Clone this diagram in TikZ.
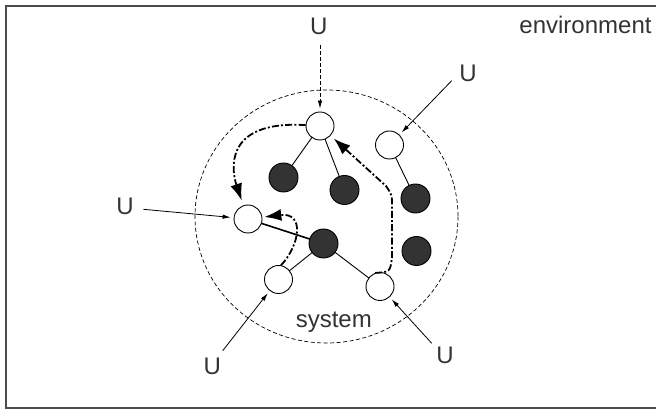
\documentclass[tikz,border=0pt]{standalone}
\usepackage{fontspec}
\setmainfont{Liberation Sans}
\usetikzlibrary{arrows.meta}
\begin{document}
\begin{tikzpicture}[x=1pt,y=-1pt,
  open/.style={circle,draw=black,fill=white,line width=0.9pt,minimum size=28pt,inner sep=0pt},
  full/.style={circle,draw=black,fill=black!80,line width=0.9pt,minimum size=29pt,inner sep=0pt},
  lbl/.style={anchor=base,text=black!80,font=\fontsize{24}{28}\selectfont,inner sep=0pt},
  edge/.style={line width=0.9pt},
  uarrow/.style={line width=0.8pt,-{Latex[length=8pt,width=4.5pt]},shorten >=3pt},
  flow/.style={line width=1.8pt,dash pattern=on 7pt off 2.2pt on 2pt off 2.2pt,-{Latex[length=17pt,width=12pt]}}]
\useasboundingbox (0,0) rectangle (656,411);
% frame
\draw[line width=1.2pt,black!70] (660,6) -- (6,6) -- (6,408) -- (660,408);
% system boundary
\draw[line width=0.7pt,dash pattern=on 4pt off 2.5pt] (326.5,216.5) ellipse [x radius=131.5,y radius=126.5];
% edges
\coordinate (a0) at (320,126);
\coordinate (f10) at (283.5,177.5);
\coordinate (f20) at (344.5,190);
\coordinate (b0) at (389.5,145);
\coordinate (f40) at (415.5,198.5);
\coordinate (c0) at (248,219);
\coordinate (f30) at (323.5,243.5);
\coordinate (d0) at (278.5,279.5);
\coordinate (e0) at (380,286.5);
\draw[edge] (a0) -- (f10);
\draw[edge] (a0) -- (f20);
\draw[edge] (b0) -- (f40);
\draw[line width=1.6pt] (c0) -- (f30);
\draw[edge] (f30) -- (d0);
\draw[edge] (f30) -- (e0);
% nodes
\node[full] (F1) at (f10) {};
\node[full] (F2) at (f20) {};
\node[full] (F3) at (f30) {};
\node[full] (F4) at (f40) {};
\node[full] (F5) at (416.5,251) {};
\node[open] (A) at (a0) {};
\node[open] (B) at (b0) {};
\node[open] (C) at (c0) {};
\node[open] (D) at (d0) {};
\node[open] (E) at (e0) {};
% labels
\node[lbl] (Ut) at (318.7,34.3) {U};
\node[lbl] (Ur) at (468,81.7) {U};
\node[lbl] (Ul) at (125,214.3) {U};
\node[lbl] (Ubl) at (212.3,375) {U};
\node[lbl] (Ubr) at (445,363.3) {U};
\node[lbl] (sys) at (333.8,328) {system};
\node[lbl] (env) at (585.5,33.3) {environment};
% input arrows
\coordinate (st) at (320,45);
\coordinate (sr) at (451.7,80.7);
\coordinate (sl) at (143.3,209.3);
\coordinate (sbl) at (222.7,350.7);
\coordinate (sbr) at (431.7,343.3);
\draw[uarrow,dash pattern=on 4pt off 2pt] (st) -- (A);
\draw[uarrow] (sr) -- (B);
\draw[uarrow] (sl) -- (C);
\draw[uarrow] (sbl) -- (D);
\draw[uarrow] (sbr) -- (E);
% flows
\draw[flow,shorten >=5pt] (A) .. controls (222,120) and (232,172) .. (C);
\draw[flow,shorten >=2pt] (D.80) .. controls (300,245) and (305,212) .. (C);
\draw[flow,shorten >=4pt] (E.110) .. controls (390,272) .. (392,258) -- (392,205) .. controls (392,195) .. (386,186) -- (A);
\end{tikzpicture}
\end{document}
